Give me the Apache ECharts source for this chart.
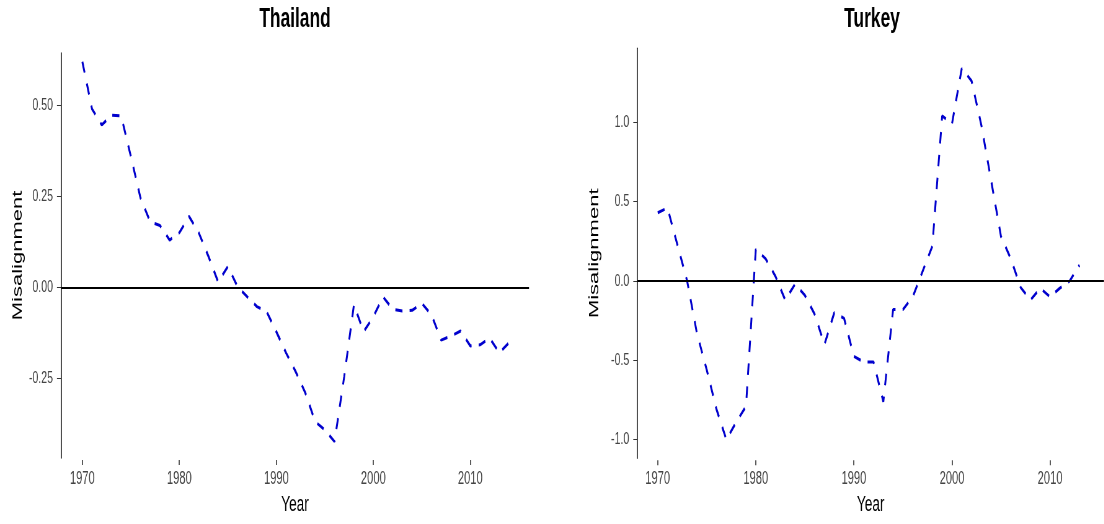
<!DOCTYPE html>
<html><head><meta charset="utf-8">
<script src="https://cdn.jsdelivr.net/npm/echarts@6/dist/echarts.min.js"></script>
<style>
html,body{margin:0;padding:0;overflow:hidden;background:#fff;width:1104px;height:524px;}
#wrap{width:1104px;height:524px;overflow:hidden;position:relative;}
#c{width:1781px;height:524px;transform:scaleX(0.62);transform-origin:0 0;position:absolute;left:0;top:0;}
</style></head><body><div id="wrap"><div id="c"></div></div>
<script>
const S = 0.62;
const titles = ['Thailand', 'Turkey'];
const thYears = [1970,1971,1972,1973,1974,1975,1976,1977,1978,1979,1980,1981,1982,1983,1984,1985,1986,1987,1988,1989,1990,1991,1992,1993,1994,1995,1996,1997,1998,1999,2000,2001,2002,2003,2004,2005,2006,2007,2008,2009,2010,2011,2012,2013,2014];
const thValues = [0.62,0.49,0.446,0.473,0.471,0.36,0.245,0.18,0.17,0.13,0.15,0.195,0.15,0.085,0.015,0.057,0.002,-0.026,-0.053,-0.067,-0.122,-0.18,-0.232,-0.291,-0.369,-0.392,-0.424,-0.245,-0.048,-0.122,-0.081,-0.026,-0.06,-0.065,-0.063,-0.044,-0.076,-0.145,-0.134,-0.12,-0.161,-0.158,-0.14,-0.18,-0.152];
const tuYears = [1970,1971,1972,1973,1974,1975,1976,1977,1978,1979,1980,1981,1982,1983,1984,1985,1986,1987,1988,1989,1990,1991,1992,1993,1994,1995,1996,1997,1998,1999,2000,2001,2002,2003,2004,2005,2006,2007,2008,2009,2010,2011,2012,2013];
const tuValues = [0.43,0.46,0.23,0.0,-0.33,-0.56,-0.81,-1.0,-0.89,-0.79,0.2,0.14,0.03,-0.12,-0.02,-0.09,-0.21,-0.40,-0.20,-0.235,-0.475,-0.51,-0.51,-0.76,-0.18,-0.18,-0.10,0.06,0.22,1.04,0.99,1.34,1.26,0.98,0.63,0.28,0.14,-0.04,-0.12,-0.045,-0.10,-0.045,0.0,0.10];
const xTicks = [1970,1980,1990,2000,2010];
const thYTicks = [-0.25,0,0.25,0.5];
const tuYTicks = [-1.0,-0.5,0,0.5,1.0];

const u = x => x / S;
const FONT = 'Liberation Sans';
const pairs = (xs, ys) => xs.map((x, i) => [x, ys[i]]);

function xAxisCfg(idx, min, max) {
  return {
    type: 'value', gridIndex: idx, min: min, max: max, offset: 2,
    axisLine: {show: false, onZero: false},
    splitLine: {show: false},
    axisTick: {show: true, customValues: xTicks, length: 5, lineStyle: {color: '#333', width: 1.6}},
    axisLabel: {customValues: xTicks, fontSize: 18, color: '#444', margin: 10, fontFamily: FONT, formatter: v => String(v)},
    name: 'Year', nameLocation: 'middle', nameGap: 34,
    nameTextStyle: {fontSize: 22, color: '#000', fontFamily: FONT}
  };
}
function yAxisCfg(idx, min, max, ticks, dec) {
  return {
    type: 'value', gridIndex: idx, min: min, max: max,
    axisLine: {show: true, onZero: false, lineStyle: {color: '#222', width: 1.6}},
    splitLine: {show: false},
    axisTick: {show: true, customValues: ticks, length: 6.5, lineStyle: {color: '#333', width: 1}},
    axisLabel: {customValues: ticks, fontSize: 17, color: '#444', margin: 13, fontFamily: FONT, formatter: v => v.toFixed(dec)},
    name: 'Misalignment', nameLocation: 'middle', nameGap: 58,
    nameTextStyle: {fontSize: 22, color: '#000', fontFamily: FONT}
  };
}
function lineSeries(idx, xs, ys) {
  return {
    type: 'line', xAxisIndex: idx, yAxisIndex: idx, data: pairs(xs, ys),
    showSymbol: false, symbol: 'none', smooth: false,
    lineStyle: {color: '#0000cd', width: 3, type: [11.5, 11.5]},
    markLine: {silent: true, symbol: ['none', 'none'], label: {show: false},
      lineStyle: {color: '#000', width: 1.8, type: 'solid'}, data: [{yAxis: 0}]},
    z: 3
  };
}

const chart = echarts.init(document.getElementById('c'));
chart.setOption({
  animation: false,
  backgroundColor: '#fff',
  title: [
    {text: titles[0], left: u(295), top: 5, textAlign: 'center', padding: 0,
      textStyle: {fontSize: 28, fontWeight: 'bold', color: '#000', fontFamily: FONT}},
    {text: titles[1], left: u(872), top: 5, textAlign: 'center', padding: 0,
      textStyle: {fontSize: 28, fontWeight: 'bold', color: '#000', fontFamily: FONT}}
  ],
  grid: [
    {left: u(61), top: 53, width: u(529) - u(61), height: 405},
    {left: u(637.3), top: 48.3, width: u(1104) - u(637.3), height: 410}
  ],
  xAxis: [xAxisCfg(0, 1967.8, 2016.05), xAxisCfg(1, 1967.92, 2015.5)],
  yAxis: [yAxisCfg(0, -0.469, 0.644, thYTicks, 2), yAxisCfg(1, -1.117, 1.466, tuYTicks, 1)],
  series: [lineSeries(0, thYears, thValues), lineSeries(1, tuYears, tuValues)]
});
</script></body></html>
